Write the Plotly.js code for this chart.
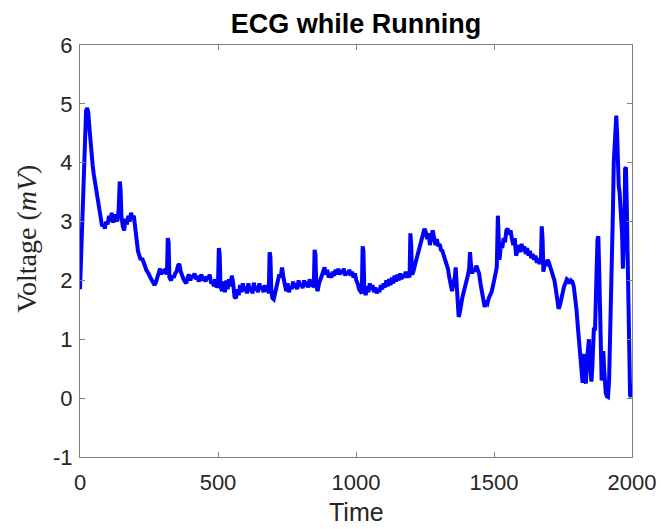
<!DOCTYPE html>
<html>
<head>
<meta charset="utf-8">
<script src="https://cdn.plot.ly/plotly-3.0.1.min.js"></script>
<style>
  html, body { margin: 0; padding: 0; background: #ffffff; }
  #chart { width: 661px; height: 529px; }
</style>
</head>
<body>
<div id="chart"></div>
<script>
// ECG recording taken while running: sample time and measured voltage (mV)
const timeSamples = [
  0, 3, 6, 10, 14, 18, 22, 26, 30, 34, 38, 42, 46, 50, 55, 60, 65, 70, 75, 80,
  85, 90, 95, 100, 105, 110, 115, 120, 125, 130, 135, 140, 144, 147, 150, 155, 160, 165, 170, 175,
  180, 185, 190, 195, 200, 205, 210, 215, 220, 225, 230, 235, 240, 245, 250, 255, 260, 265, 270, 275,
  280, 285, 290, 295, 300, 305, 310, 315, 318, 321, 324, 330, 335, 340, 345, 350, 355, 360, 365, 370,
  375, 380, 385, 390, 395, 400, 405, 410, 415, 420, 425, 430, 435, 440, 445, 450, 455, 460, 465, 470,
  475, 480, 485, 490, 495, 500, 503, 506, 509, 515, 520, 525, 530, 535, 540, 545, 550, 555, 560, 565,
  570, 575, 580, 585, 590, 595, 600, 605, 610, 615, 620, 625, 630, 635, 640, 645, 650, 655, 660, 665,
  670, 675, 680, 684, 687, 690, 693, 697, 702, 707, 712, 717, 722, 727, 732, 737, 742, 747, 752, 757,
  762, 767, 772, 777, 782, 787, 792, 797, 802, 807, 812, 817, 822, 827, 832, 837, 842, 847, 850, 853,
  856, 861, 866, 871, 876, 881, 886, 891, 896, 901, 906, 911, 916, 921, 926, 931, 936, 941, 946, 951,
  956, 961, 966, 971, 976, 981, 986, 991, 996, 1001, 1006, 1011, 1016, 1021, 1024, 1027, 1030, 1035, 1040, 1045,
  1050, 1055, 1060, 1065, 1070, 1075, 1080, 1085, 1090, 1095, 1100, 1105, 1110, 1115, 1120, 1125, 1130, 1135, 1140, 1145,
  1150, 1155, 1160, 1165, 1170, 1175, 1180, 1185, 1190, 1194, 1197, 1200, 1203, 1208, 1213, 1218, 1223, 1228, 1233, 1238,
  1243, 1248, 1253, 1258, 1263, 1268, 1273, 1278, 1283, 1288, 1293, 1298, 1303, 1308, 1313, 1318, 1323, 1328, 1333, 1338,
  1343, 1348, 1353, 1358, 1361, 1364, 1368, 1372, 1376, 1380, 1385, 1390, 1395, 1400, 1405, 1410, 1413, 1416, 1421, 1426,
  1431, 1436, 1441, 1446, 1451, 1456, 1461, 1466, 1471, 1476, 1481, 1486, 1491, 1496, 1501, 1506, 1510, 1514, 1517, 1520,
  1525, 1530, 1535, 1540, 1545, 1550, 1555, 1560, 1565, 1570, 1575, 1580, 1585, 1590, 1595, 1600, 1605, 1610, 1615, 1620,
  1625, 1630, 1635, 1640, 1645, 1650, 1655, 1660, 1665, 1670, 1673, 1676, 1679, 1684, 1689, 1694, 1699, 1704, 1709, 1714,
  1719, 1724, 1729, 1734, 1739, 1744, 1749, 1754, 1759, 1764, 1769, 1774, 1779, 1784, 1789, 1794, 1799, 1804, 1808, 1812,
  1815, 1818, 1821, 1824, 1827, 1830, 1833, 1836, 1840, 1844, 1847, 1850, 1853, 1856, 1859, 1862, 1866, 1869, 1872, 1875,
  1878, 1881, 1884, 1887, 1890, 1893, 1896, 1899, 1902, 1905, 1909, 1913, 1917, 1921, 1925, 1928, 1931, 1934, 1937, 1940,
  1943, 1946, 1949, 1952, 1955, 1958, 1961, 1964, 1967, 1970, 1973, 1975, 1978, 1981, 1984, 1987, 1990, 1993, 1996, 1998,
  2000
];

const voltageMv = [
  1.85, 2.3, 2.9, 3.6, 4.2, 4.65, 4.88, 4.93, 4.85, 4.6, 4.3, 4.1, 3.95, 3.8, 3.65, 3.5, 3.3, 3.12, 3.0, 2.92,
  2.95, 2.88, 3.0, 2.95, 3.1, 3.0, 3.15, 2.98, 3.12, 3.05, 3.0, 3.2, 3.68, 3.55, 3.1, 2.92, 2.85, 3.05, 2.95, 3.1,
  3.0, 3.15, 3.05, 3.1, 2.95, 2.7, 2.5, 2.42, 2.35, 2.38, 2.28, 2.25, 2.18, 2.15, 2.1, 2.05, 2.0, 1.95, 1.92, 1.97,
  2.05, 2.12, 2.2, 2.1, 2.18, 2.12, 2.2, 2.1, 2.72, 2.65, 2.05, 2.0, 2.08, 2.05, 2.12, 2.15, 2.25, 2.28, 2.15, 2.05,
  2.02, 1.98, 1.95, 2.05, 2.1, 2.0, 2.08, 2.05, 2.12, 2.02, 2.08, 1.98, 2.05, 2.1, 2.0, 2.06, 1.98, 2.07, 2.02, 2.1,
  1.95, 1.98, 1.9, 2.02, 1.88, 1.92, 2.55, 2.45, 1.9, 1.82, 1.98, 1.8, 2.0, 1.85, 2.02, 1.9, 2.08, 1.95, 1.72, 1.7,
  1.85, 1.75, 1.92, 1.8, 1.95, 1.82, 1.9, 1.78, 1.95, 1.82, 1.88, 1.78, 1.96, 1.83, 1.9, 1.8, 1.95, 1.85, 1.9, 1.8,
  1.92, 1.82, 1.88, 1.78, 2.48, 2.4, 1.85, 1.7, 1.68, 1.8, 1.9, 2.0, 2.1, 2.05, 2.22, 2.05, 1.88, 1.82, 1.95, 1.8,
  1.9, 1.85, 1.98, 1.88, 1.95, 1.85, 2.0, 1.9, 1.95, 1.87, 2.0, 1.9, 1.98, 1.88, 2.02, 1.9, 1.98, 1.88, 2.52, 2.45,
  1.9, 1.82, 1.95, 2.0, 2.08, 2.15, 2.22, 2.1, 2.18, 2.05, 2.12, 2.05, 2.15, 2.08, 2.18, 2.1, 2.2, 2.1, 2.17, 2.12,
  2.2, 2.08, 2.15, 2.1, 2.18, 2.08, 2.15, 2.05, 2.12, 2.0, 1.95, 1.85, 1.8, 1.78, 2.58, 2.5, 1.85, 1.75, 1.9, 1.8,
  1.95, 1.85, 1.92, 1.8, 1.88, 1.78, 1.85, 1.8, 1.92, 1.85, 1.95, 1.88, 2.0, 1.9, 2.02, 1.92, 2.05, 1.95, 2.08, 1.98,
  2.1, 2.0, 2.12, 2.02, 2.1, 2.05, 2.15, 2.05, 2.1, 2.05, 2.8, 2.6, 2.1, 2.15, 2.25, 2.35, 2.45, 2.55, 2.6, 2.72,
  2.8, 2.88, 2.82, 2.7, 2.8, 2.6, 2.75, 2.85, 2.72, 2.6, 2.7, 2.58, 2.62, 2.52, 2.5, 2.42, 2.38, 2.3, 2.2, 2.05,
  1.92, 1.82, 1.95, 2.05, 2.22, 1.95, 1.55, 1.38, 1.45, 1.6, 1.7, 1.8, 1.88, 1.98, 2.08, 2.2, 2.48, 2.3, 2.12, 2.2,
  2.15, 2.25, 2.2, 2.12, 1.95, 1.78, 1.6, 1.55, 1.62, 1.6, 1.7, 1.75, 1.8, 1.9, 2.0, 2.12, 2.22, 3.1, 2.85, 2.35,
  2.6, 2.55, 2.72, 2.65, 2.85, 2.88, 2.78, 2.85, 2.7, 2.6, 2.72, 2.42, 2.5, 2.6, 2.48, 2.62, 2.5, 2.58, 2.45, 2.55,
  2.42, 2.5, 2.38, 2.45, 2.35, 2.42, 2.3, 2.38, 2.28, 2.35, 2.92, 2.7, 2.15, 2.3, 2.25, 2.35, 2.3, 2.22, 2.15, 2.12,
  2.0, 1.85, 1.6, 1.52, 1.58, 1.7, 1.8, 1.9, 1.95, 2.02, 2.0, 1.95, 2.0, 1.98, 1.9, 1.75, 1.5, 1.2, 0.95, 0.8,
  0.55, 0.4, 0.26, 0.55, 0.75, 0.3, 0.25, 0.6, 0.95, 1.0, 0.6, 0.35, 0.28, 0.5, 0.9, 1.2, 1.15, 1.5, 2.2, 2.7,
  2.75, 2.2, 1.5, 0.9, 0.3, 0.5, 0.8, 0.5, 0.15, 0.08, 0.03, 0.02, 0.3, 1.0, 1.8, 2.4, 3.2, 4.0, 4.4, 4.75,
  4.8, 4.5, 3.8, 3.6, 3.5, 3.3, 3.2, 2.8, 2.2, 2.5, 3.0, 3.9, 3.92, 3.3, 2.4, 1.2, 0.3, 0.05, 0.02, 0.1,
  0.25
];

const xTickValues = [0, 500, 1000, 1500, 2000];
const yTickValues = [-1, 0, 1, 2, 3, 4, 5, 6];

const axisGray = '#808080';
const labelColor = '#262626';
const sansFont = 'Liberation Sans, Arial, sans-serif';

const trace = {
  x: timeSamples,
  y: voltageMv,
  type: 'scatter',
  mode: 'lines',
  line: { color: '#0000ff', width: 4 },
  hoverinfo: 'x+y'
};

const layout = {
  width: 661,
  height: 529,
  margin: { l: 80, r: 29, t: 45, b: 72 },
  paper_bgcolor: '#ffffff',
  plot_bgcolor: '#ffffff',
  showlegend: false,
  title: {
    text: '<b>ECG while Running</b>',
    font: { family: sansFont, size: 27, color: '#000000' },
    x: 0.5, xanchor: 'center', xref: 'paper',
    y: 0.955, yanchor: 'middle', yref: 'container'
  },
  xaxis: {
    range: [0, 2000],
    tickvals: xTickValues,
    ticktext: xTickValues.map(String),
    ticks: 'inside', ticklen: 5, tickwidth: 1, tickcolor: axisGray,
    showline: true, linecolor: axisGray, linewidth: 1, mirror: 'ticks',
    showgrid: false, zeroline: false,
    ticklabelstandoff: 6,
    tickfont: { family: sansFont, size: 22, color: labelColor }
  },
  yaxis: {
    range: [-1, 6],
    tickvals: yTickValues,
    ticktext: yTickValues.map(String),
    ticks: 'inside', ticklen: 5, tickwidth: 1, tickcolor: axisGray,
    showline: true, linecolor: axisGray, linewidth: 1, mirror: 'ticks',
    showgrid: false, zeroline: false,
    ticklabelstandoff: 2,
    tickfont: { family: sansFont, size: 22, color: labelColor }
  },
  annotations: [
    {
      // x-axis title
      text: 'Time',
      xref: 'paper', yref: 'paper', x: 0.5, y: -0.133,
      xanchor: 'center', yanchor: 'middle', showarrow: false,
      font: { family: sansFont, size: 25, color: labelColor }
    },
    {
      // y-axis title, rendered in a serif face like a LaTeX label
      text: 'Voltage (<i>mV</i>)',
      xref: 'paper', yref: 'paper', x: -0.096, y: 0.53,
      xanchor: 'center', yanchor: 'middle', textangle: -90, showarrow: false,
      font: { family: 'Liberation Serif, Times New Roman, serif', size: 28, color: labelColor }
    }
  ]
};

Plotly.newPlot('chart', [trace], layout, { displayModeBar: false, staticPlot: true });
</script>
</body>
</html>
